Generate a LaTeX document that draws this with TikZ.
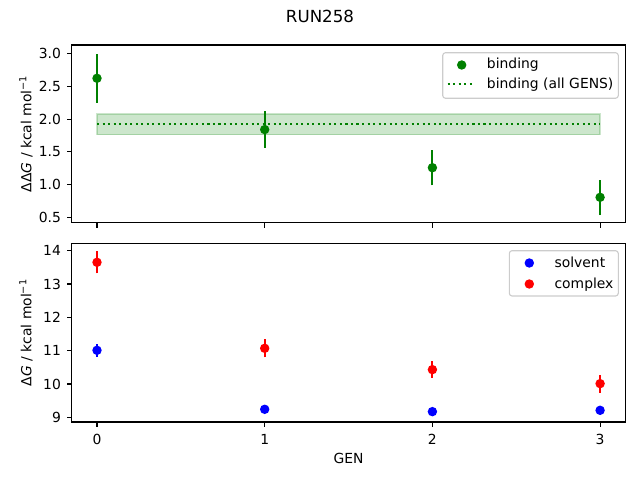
\documentclass[tikz,border=0pt]{standalone}
\usepackage{fontspec}
\setmainfont{DejaVu Sans}
\definecolor{mplgreen}{RGB}{0,128,0}
\definecolor{mplblue}{RGB}{0,0,255}
\definecolor{mplred}{RGB}{255,0,0}
\tikzset{
  ebar/.style={line width=1.5pt},
  datadot/.style={circle,fill=#1,inner sep=0pt,minimum size=6.8pt},
  ticklab/.style={inner sep=0pt,font=\fontsize{10}{12}\selectfont},
  spine/.style={line width=0.8pt},
  legbox/.style={draw=black!20,fill=white,fill opacity=0.8,rounded corners=2pt,line width=0.8pt},
  dotline/.style={mplgreen,line width=1.5pt,dash pattern=on 1.5pt off 2.475pt},
}
\begin{document}
\begin{tikzpicture}[x=0.72pt,y=0.72pt]
\useasboundingbox (0,0) rectangle (640,480);
\node[ticklab,anchor=north,font=\fontsize{12}{14}\selectfont] (title) at (320,470) {RUN258};

% top panel
\begin{scope}[shift={(97,229.42)},x=120.744pt,y=47.347pt]
  \filldraw[fill=mplgreen,draw=mplgreen,opacity=0.2,line width=1pt] (0,1.765) rectangle (3,2.075);
  \draw[dotline] (0,1.92) -- (3,1.92);
  \foreach \g/\v/\e [count=\i] in {0/2.62/0.37,1/1.84/0.28,2/1.26/0.27,3/0.81/0.27}{
    \draw[ebar,mplgreen] (\g,\v-\e) -- (\g,\v+\e);
    \node[datadot=mplgreen] (bind\i) at (\g,\v) {};
  }
  \foreach \v [count=\i] in {0.5,1.0,1.5,2.0,2.5,3.0}
    \draw[spine] (-0.15,\v) -- ++(-3.5pt,0) node[ticklab,anchor=east,xshift=-4pt] (ytop\i) {\v};
  \foreach \g in {0,...,3}
    \draw[spine] (\g,0.424) -- ++(0,-3.5pt);
  \draw[spine] (-0.15,0.424) rectangle (3.15,3.126);
\end{scope}
\node[ticklab,rotate=90,anchor=south] (ylabtop) at (33,346.2) {ΔΔ\textit{G} / kcal mol\textsuperscript{−1}};

% legend top
\draw[legbox] (442.7,381.7) rectangle (618.3,427.3);
\node[datadot=mplgreen] (legdot) at (461.7,415) {};
\node[ticklab,anchor=base west] (legbind) at (486.7,411) {binding};
\coordinate (legA) at (447.7,396);
\coordinate (legB) at (475,396);
\draw[dotline] (legA) -- (legB);
\node[ticklab,anchor=base west] (legall) at (486.7,391) {binding (all GENS)};

% bottom panel
\begin{scope}[shift={(97,-237.3)},x=120.744pt,y=24.0pt]
  \foreach \g/\v/\e [count=\i] in {0/11.01/0.19,1/9.24/0.05,2/9.17/0.04,3/9.21/0.04}{
    \draw[ebar,mplblue] (\g,\v-\e) -- (\g,\v+\e);
    \node[datadot=mplblue] (solv\i) at (\g,\v) {};
  }
  \foreach \g/\v/\e [count=\i] in {0/13.65/0.33,1/11.07/0.27,2/10.43/0.25,3/10.01/0.27}{
    \draw[ebar,mplred] (\g,\v-\e) -- (\g,\v+\e);
    \node[datadot=mplred] (cplx\i) at (\g,\v) {};
  }
  \foreach \v [count=\i] in {9,...,14}
    \draw[spine] (-0.15,\v) -- ++(-3.5pt,0) node[ticklab,anchor=east,xshift=-4pt] (ybot\i) {\v};
  \foreach \g in {0,...,3}
    \draw[spine] (\g,8.86) -- ++(0,-3.5pt) node[ticklab,anchor=north,yshift=-5pt] (xtick\g) {\g};
  \draw[spine] (-0.15,8.86) rectangle (3.15,14.22);
\end{scope}
\node[ticklab,rotate=90,anchor=south] (ylabbot) at (33,147.35) {Δ\textit{G} / kcal mol\textsuperscript{−1}};
\node[ticklab,anchor=north] (xlab) at (348.5,27.3) {GEN};

% legend bottom
\draw[legbox] (509.3,184) rectangle (618.3,229.3);
\node[datadot=mplblue] (legsolvdot) at (529.3,217) {};
\node[ticklab,anchor=base west] (legsolv) at (554.3,212.7) {solvent};
\node[datadot=mplred] (legcplxdot) at (529.3,196) {};
\node[ticklab,anchor=base west] (legcplx) at (554.3,191.7) {complex};
\end{tikzpicture}
\end{document}
